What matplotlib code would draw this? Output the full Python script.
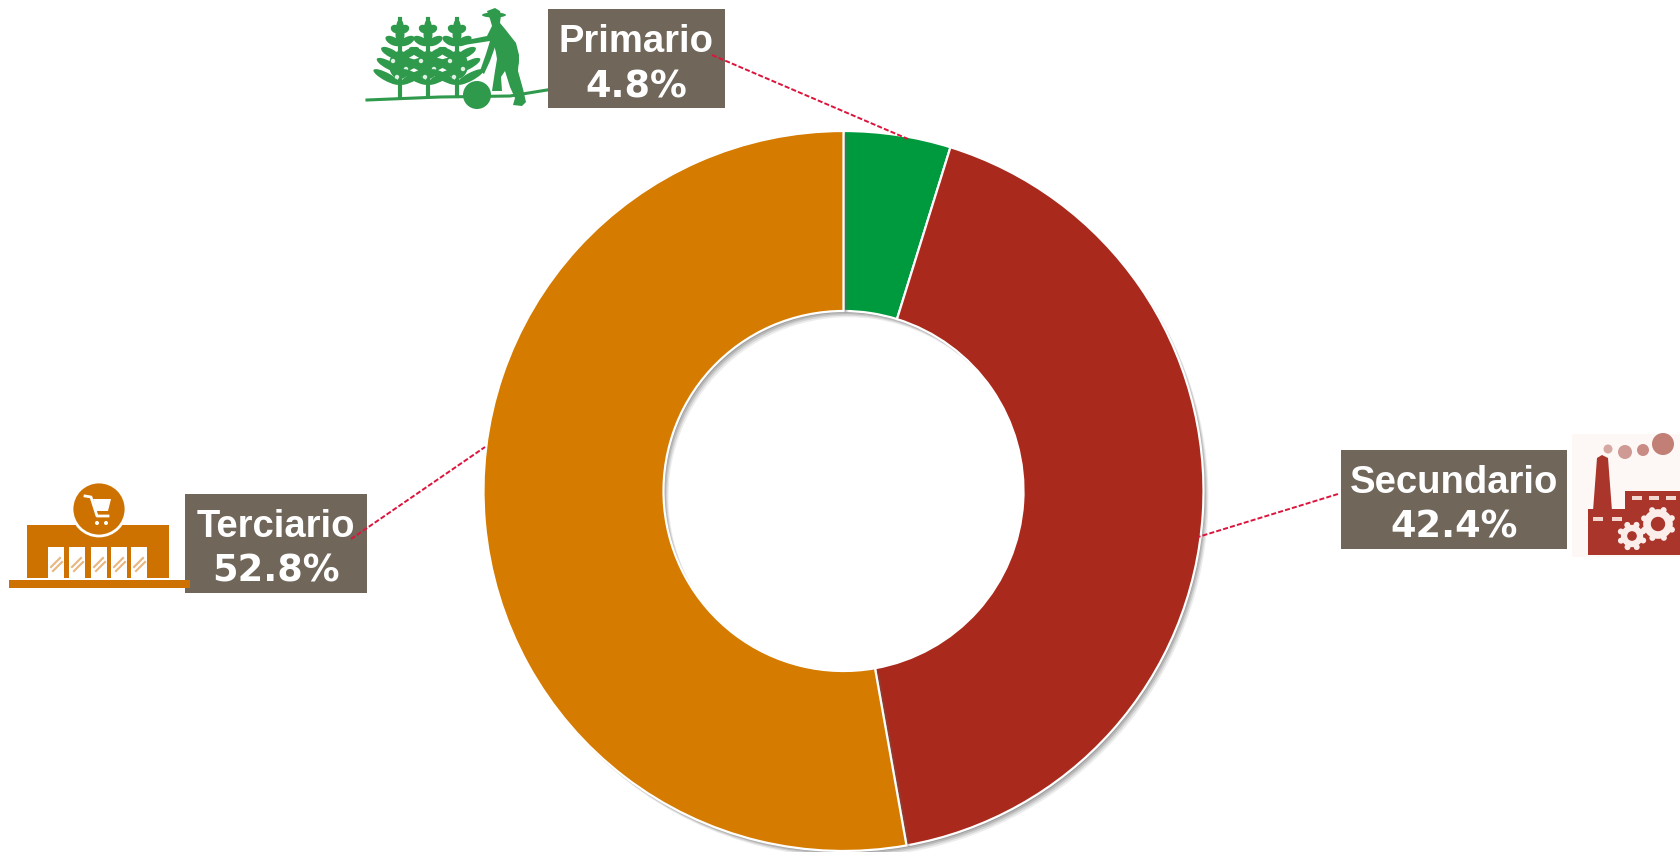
import numpy as np
import matplotlib
matplotlib.use("Agg")
import matplotlib.pyplot as plt
from matplotlib.patches import Rectangle, Circle, Polygon, Ellipse
import matplotlib.patheffects as pe

sectors = ["Primario", "Secundario", "Terciario"]
shares = [4.8, 42.4, 52.8]
colors = ["#009A3E", "#A9291C", "#D57B00"]
share_text = ["4.8%", "42.4%", "52.8%"]

W, H = 1681, 853
fig = plt.figure(figsize=(W / 100, H / 100), dpi=100, facecolor="white")

# overlay in pixel coordinates
ov = fig.add_axes([0, 0, 1, 1], zorder=3)
ov.set_xlim(0, W); ov.set_ylim(H, 0); ov.axis("off"); ov.patch.set_alpha(0)

# donut
cx, cy, R = 843.5, 492, 360
pad = (R + 10) / R
ax = fig.add_axes([(cx - R - 10) / W, 1 - (cy + R + 10) / H, (2 * R + 20) / W, (2 * R + 20) / H], zorder=1)
wedges, _ = ax.pie(shares, colors=colors, startangle=90, counterclock=False, radius=1,
                   wedgeprops=dict(width=0.5, edgecolor="white", linewidth=1.6))
shadow = [pe.SimplePatchShadow(offset=o, shadow_rgbFace="#666666", alpha=a)
          for o, a in [((3.6, -4.5), 0.12), ((2.7, -3.4), 0.18), ((1.8, -2.3), 0.25), ((0.9, -1.2), 0.32)]]
for w in wedges:
    w.set_path_effects(shadow + [pe.Normal()])
ax.set_xlim(-pad, pad); ax.set_ylim(-pad, pad)
ax.set_aspect("equal")
ax.axis("off")

# label boxes
BOX = "#70665A"
boxes = [(548, 10, 177, 99), (1341, 451, 226, 99), (185, 495, 182, 99)]
for (x, y, w, h), name, pct in zip(boxes, sectors, share_text):
    ov.add_patch(Rectangle((x, y), w, h, fc=BOX, ec="none", zorder=3))
    ov.text(x + w / 2, y + 42, name, ha="center", va="baseline", color="white", zorder=4,
            fontsize=27.5, fontweight="bold", family="Liberation Sans")
    ov.text(x + w / 2, y + 87, pct, ha="center", va="baseline", color="white", zorder=4,
            fontsize=26.5, fontweight="bold", family="DejaVu Sans")

# leader lines
for p, q in [((712, 56), (908, 140)), ((1338, 495), (1198, 538)), ((351, 540), (485, 448))]:
    ov.plot([p[0], q[0]], [p[1], q[1]], color="#DC143C", lw=1.4, ls=(0, (2.6, 1.1)), zorder=5)

# --- shop icon ---
O = "#CD7200"
ov.add_patch(Rectangle((27, 526), 142, 53, fc=O, ec="none", zorder=2))
for x in (48, 69, 91, 111, 131):
    ov.add_patch(Rectangle((x, 548), 16, 31, fc="white", ec="none", zorder=2))
    ov.plot([x + 3, x + 12], [568, 559], color="#E9B67E", lw=1.5, zorder=2)
    ov.plot([x + 5, x + 14], [572, 563], color="#E9B67E", lw=1.5, zorder=2)
ov.add_patch(Rectangle((9, 581), 181, 8, fc=O, ec="none", zorder=3.5))
ov.add_patch(Circle((99, 510), 27, fc=O, ec="white", lw=2, zorder=2))
ov.plot([85, 91, 97, 108], [497, 498, 517, 517], color="white", lw=2, zorder=2)
ov.add_patch(Polygon([(93, 500), (111, 500), (108, 512), (96, 512)], fc="white", ec="none", zorder=2))
ov.add_patch(Circle((97, 524), 2, fc="white", ec="none", zorder=2))
ov.add_patch(Circle((106, 524), 2, fc="white", ec="none", zorder=2))

# --- factory icon ---
F = "#A9352B"
ov.add_patch(Rectangle((1572, 435), 109, 123, fc="#FDF7F5", ec="none", zorder=2))
ov.add_patch(Polygon([(1593, 512), (1597, 459), (1602, 456), (1608, 459), (1612, 512)], fc=F, ec="none", zorder=2))
ov.add_patch(Polygon([(1588, 510), (1625, 510), (1625, 492), (1681, 492), (1681, 556), (1588, 556)], fc=F, ec="none", zorder=2))
for x in (1593, 1612):
    ov.add_patch(Rectangle((x, 518), 10, 4, fc="#F3D8D2", ec="none", zorder=2))
for x in (1632, 1649, 1666):
    ov.add_patch(Rectangle((x, 497), 10, 4, fc="#F3D8D2", ec="none", zorder=2))
for (gx, gy, r, lw) in [(1632, 537, 8, 4.5), (1658, 525, 11, 5.5)]:
    for a in np.arange(0, 360, 45):
        ox, oy = gx + (r + 4) * np.cos(np.radians(a + 22)), gy + (r + 4) * np.sin(np.radians(a + 22))
        ov.add_patch(Circle((ox, oy), 3, fc="#FBEDEA", ec="none", zorder=2))
    ov.add_patch(Circle((gx, gy), r, fc=F, ec="#FBEDEA", lw=lw, zorder=2))
for (sx, sy, r, c) in [(1663, 445, 11, "#C27F76"), (1643, 451, 6, "#C98C84"), (1625, 453, 7, "#CE9A93"), (1608, 450, 4.5, "#D5A8A2")]:
    ov.add_patch(Circle((sx, sy), r, fc=c, ec="none", zorder=2))

# --- farmer icon ---
G = "#2F9A4C"
ov.plot([367, 440, 510, 547], [101, 98, 97, 91], color=G, lw=2.2, zorder=2)
for px in (400, 428, 457):
    ov.plot([px, px], [20, 97], color=G, lw=3, zorder=2)
    for yy, sp in zip((30, 42, 54, 66, 78), (8, 13, 17, 21, 24)):
        for s in (-1, 1):
            ov.add_patch(Ellipse((px + s * sp * 0.55, yy), sp * 1.25, 8, angle=-s * 28, fc=G, ec="none", zorder=2))
    ov.add_patch(Ellipse((px, 34), 9, 28, fc=G, ec="none", zorder=2))
    ov.add_patch(Ellipse((px, 66), 22, 28, fc=G, ec="none", zorder=2))
    for dx, dy in [(-7, 62), (6, 70), (-3, 78)]:
        ov.add_patch(Circle((px + dx, dy), 2.2, fc="#DDF0E2", ec="none", zorder=2))
ov.add_patch(Circle((477, 96), 14, fc=G, ec="none", zorder=2))
ov.add_patch(Polygon([(487, 12), (495, 9), (500, 12), (501, 16), (500, 24), (505, 30), (516, 44), (519, 56), (518, 72),
                      (523, 90), (526, 103), (522, 107), (513, 106), (515, 99), (510, 88), (505, 72), (501, 78),
                      (502, 92), (492, 92), (495, 72), (497, 60), (495, 48), (490, 62), (484, 75), (480, 72),
                      (486, 55), (490, 42), (464, 46), (462, 42), (487, 37), (492, 27), (490, 20)],
                     fc=G, ec="none", zorder=2))
ov.add_patch(Ellipse((506, 50), 20, 44, angle=-25, fc=G, ec="none", zorder=2))
ov.add_patch(Ellipse((494, 16), 24, 5, fc=G, ec="none", zorder=2))

fig.savefig("out.png", dpi=100, facecolor="white")
